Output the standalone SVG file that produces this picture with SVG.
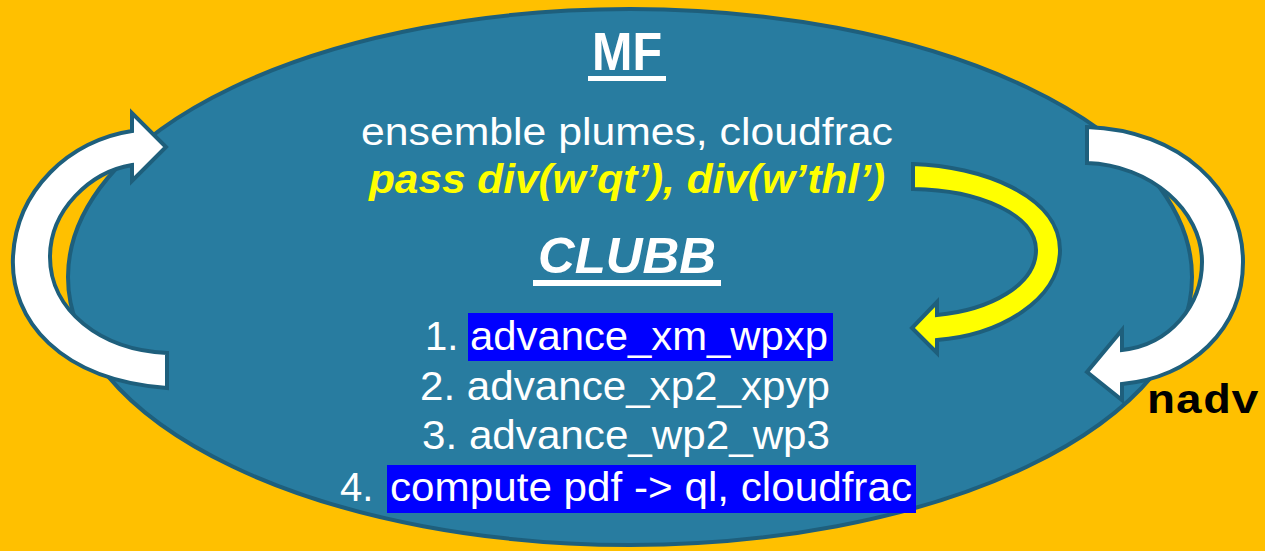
<svg xmlns="http://www.w3.org/2000/svg" width="1265" height="551" viewBox="0 0 1265 551">
<style>
.t{font-family:"Liberation Sans",Arial,sans-serif;fill:#fff}
.b{font-weight:bold}
.i{font-style:italic}
.y{fill:#ffff00}
.m{font-family:"Liberation Mono","Courier New",monospace;font-weight:bold;fill:#000}
.arr{stroke:#1e5f7c;stroke-width:4;stroke-linejoin:miter}
.hl{fill:#0000ff}
</style>
<rect width="1265" height="551" fill="#ffc000"/>
<g id="cycle">
<ellipse cx="630" cy="277" rx="562" ry="268" fill="#287ca0" stroke="#1e5f7c" stroke-width="4"/>
</g>
<g id="connectors">
<path class="arr" fill="#fff" d="M167,388 C60,380 10,320 13,257 C16,190 70,140 132,131 L132,113 L166,147 L132,181 L132,165 C90,172 50,210 50,257 C50,310 100,350 167,353 Z"/>
<path class="arr" fill="#fff" d="M1087,127 C1180,130 1243,190 1243,262 C1243,330 1190,378 1122,384 L1122,400 L1087,372 L1122,330 L1122,350 C1170,345 1202,305 1202,262 C1202,210 1150,165 1087,163 Z"/>
<path class="arr" fill="#ffff00" d="M913,164 C980,166 1060,195 1060,250 C1060,300 1000,335 937,340 L937,353 L912,328 L937,302 L937,315 C990,310 1036,285 1036,250 C1036,215 980,190 913,189 Z"/>
</g>
<g id="mf">
<text class="t b" x="592" y="70" font-size="53" textLength="70" lengthAdjust="spacingAndGlyphs">MF</text>
<rect x="588" y="76" width="78" height="5" fill="#fff"/>
<text class="t" x="361" y="145" font-size="38" textLength="532" lengthAdjust="spacingAndGlyphs">ensemble plumes, cloudfrac</text>
<text class="t b i y" x="369" y="193" font-size="40" textLength="516" lengthAdjust="spacingAndGlyphs">pass div(w’qt’), div(w’thl’)</text>
</g>
<g id="clubb">
<text class="t b i" x="538" y="273" font-size="50" textLength="178" lengthAdjust="spacingAndGlyphs">CLUBB</text>
<rect x="533" y="280" width="188" height="6" fill="#fff"/>
<rect class="hl" x="468" y="313" width="365" height="48"/>
<text class="t" x="425" y="350" font-size="40">1.</text>
<text class="t" x="470" y="350" font-size="40" textLength="358" lengthAdjust="spacingAndGlyphs">advance_xm_wpxp</text>
<text class="t" x="420" y="400" font-size="40" textLength="410" lengthAdjust="spacingAndGlyphs">2. advance_xp2_xpyp</text>
<text class="t" x="422" y="449" font-size="40" textLength="408" lengthAdjust="spacingAndGlyphs">3. advance_wp2_wp3</text>
<rect class="hl" x="387" y="465" width="529" height="48"/>
<text class="t" x="340" y="501" font-size="40">4.</text>
<text class="t" x="390" y="501" font-size="40" textLength="522" lengthAdjust="spacingAndGlyphs">compute pdf -&gt; ql, cloudfrac</text>
</g>
<g id="nadv">
<text class="m" x="1147" y="413" font-size="40" textLength="112" lengthAdjust="spacingAndGlyphs">nadv</text>
</g>
</svg>
